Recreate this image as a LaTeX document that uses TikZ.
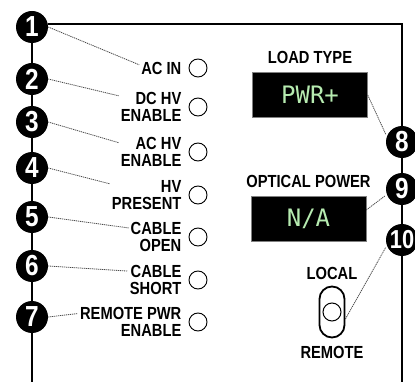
\documentclass[tikz,border=0pt]{standalone}
\usepackage{fontspec}
\usepackage{xcolor}
\usetikzlibrary{positioning,calc}
\newfontfamily\panelfont{Liberation Sans}[FakeStretch=0.84]
\newfontfamily\segfont{DejaVu Sans Mono}
\definecolor{Ink}{HTML}{000000}
\definecolor{Lcd}{HTML}{B6EBB0}
\definecolor{Lead}{HTML}{4A4A4A}
\tikzset{
  badge/.style={
    circle, fill=Ink, text=white, minimum size=32pt, inner sep=0pt,
    font=\panelfont\bfseries\fontsize{29}{29}\selectfont
  },
  lbl/.style={align=right, inner sep=0pt,
    font=\panelfont\bfseries\fontsize{17.5}{16.8}\selectfont},
  led/.style={circle, draw=Ink, line width=.9pt, minimum size=18pt, inner sep=0pt},
  lcd/.style={fill=Ink, draw=gray, line width=.4pt, minimum width=115pt,
    minimum height=45pt, text=Lcd, font=\segfont\fontsize{24}{24}\selectfont},
  toggle/.style={draw=Ink, line width=1.8pt, rounded corners=12.5pt,
    minimum width=25pt, minimum height=51pt, inner sep=0pt},
  frame/.style={line width=1.8pt, draw=Ink},
  lead/.style={draw=Lead, line width=.8pt, dash pattern=on 1.2pt off .8pt, shorten >=2pt}
}

\begin{document}
\begin{tikzpicture}[x=1pt,y=-1pt]
  \useasboundingbox[fill=white] (0,0) rectangle (415,382);
  % indicator lamps
  \node[led] (led1) at (198,68) {};
  \node[led] (led2) at (198,107) {};
  \node[led] (led3) at (198,152) {};
  \node[led] (led4) at (198,195) {};
  \node[led] (led5) at (198,237) {};
  \node[led] (led6) at (198,280) {};
  \node[led] (led7) at (198,322) {};
  \node[lbl,left=7pt of led1] (l1) {AC IN};
  \node[lbl,left=7pt of led2] (l2) {DC HV\\ENABLE};
  \node[lbl,left=7pt of led3] (l3) {AC HV\\ENABLE};
  \node[lbl,left=7pt of led4] (l4) {HV\\PRESENT};
  \node[lbl,left=7pt of led5] (l5) {CABLE\\OPEN};
  \node[lbl,left=7pt of led6] (l6) {CABLE\\SHORT};
  \node[lbl,left=7pt of led7] (l7) {REMOTE PWR\\ENABLE};
  % displays and switch
  \node[lcd] (d1) at (310,95) {PWR+};
  \node[lbl,above=8pt of d1] (t1) {LOAD TYPE};
  \node[lcd] (d2) at (308.5,219) {N/A};
  \node[lbl,above=8pt of d2] (t2) {OPTICAL POWER};
  \node[toggle] (sw) at (332,312) {};
  \node[circle,draw=Ink,line width=1pt,minimum size=18pt,inner sep=0pt] (knob) at (sw.center) {};
  \node[lbl,above=6pt of sw] (loc) {LOCAL};
  \node[lbl,below=8pt of sw] (rem) {REMOTE};
  % callouts
  \node[badge] (b1) at (32,27) {1};
  \node[badge] (b2) at (32,79) {2};
  \node[badge] (b3) at (32,122) {3};
  \node[badge] (b4) at (32,168) {4};
  \node[badge] (b5) at (32,217) {5};
  \node[badge] (b6) at (32,266) {6};
  \node[badge] (b7) at (32,317) {7};
  \node[badge] (b8) at (402,142) {8};
  \node[badge] (b9) at (402,189) {9};
  \node[badge,font=\panelfont\bfseries\fontsize{26}{26}\selectfont] (b10) at (402,240) {10};
  \coordinate (botL) at (32,383);
  \coordinate (botR) at (402,383);
  \draw[frame] (b1) -- (b2) -- (b3) -- (b4) -- (b5) -- (b6) -- (b7) -- (botL);
  \draw[frame] (b1.10) -- (b1.10 -| b8) -- (b8) -- (b9) -- (b10) -- (botR);
  \draw[lead] (b1.east) -- ([yshift=-4pt]l1.north west);
  \draw[lead] (b2.east) -- ([yshift=-4pt]l2.north west);
  \draw[lead] (b3.east) -- ([yshift=-6pt]l3.north west);
  \draw[lead] (b4.east) -- ([yshift=-4pt]l4.north west);
  \draw[lead] (b5.east) -- ([yshift=-6pt]l5.north west);
  \draw[lead] (b6.east) -- ([yshift=-6pt]l6.north west);
  \draw[lead] (b7.east) -- ([yshift=-6pt]l7.north west);
  \draw[lead] (d1.east) -- (b8.160);
  \draw[lead] ([yshift=9pt]d2.east) -- (b9.200);
  \draw[lead] ([yshift=-7pt]sw.east) -- (b10.200);
\end{tikzpicture}
\end{document}
